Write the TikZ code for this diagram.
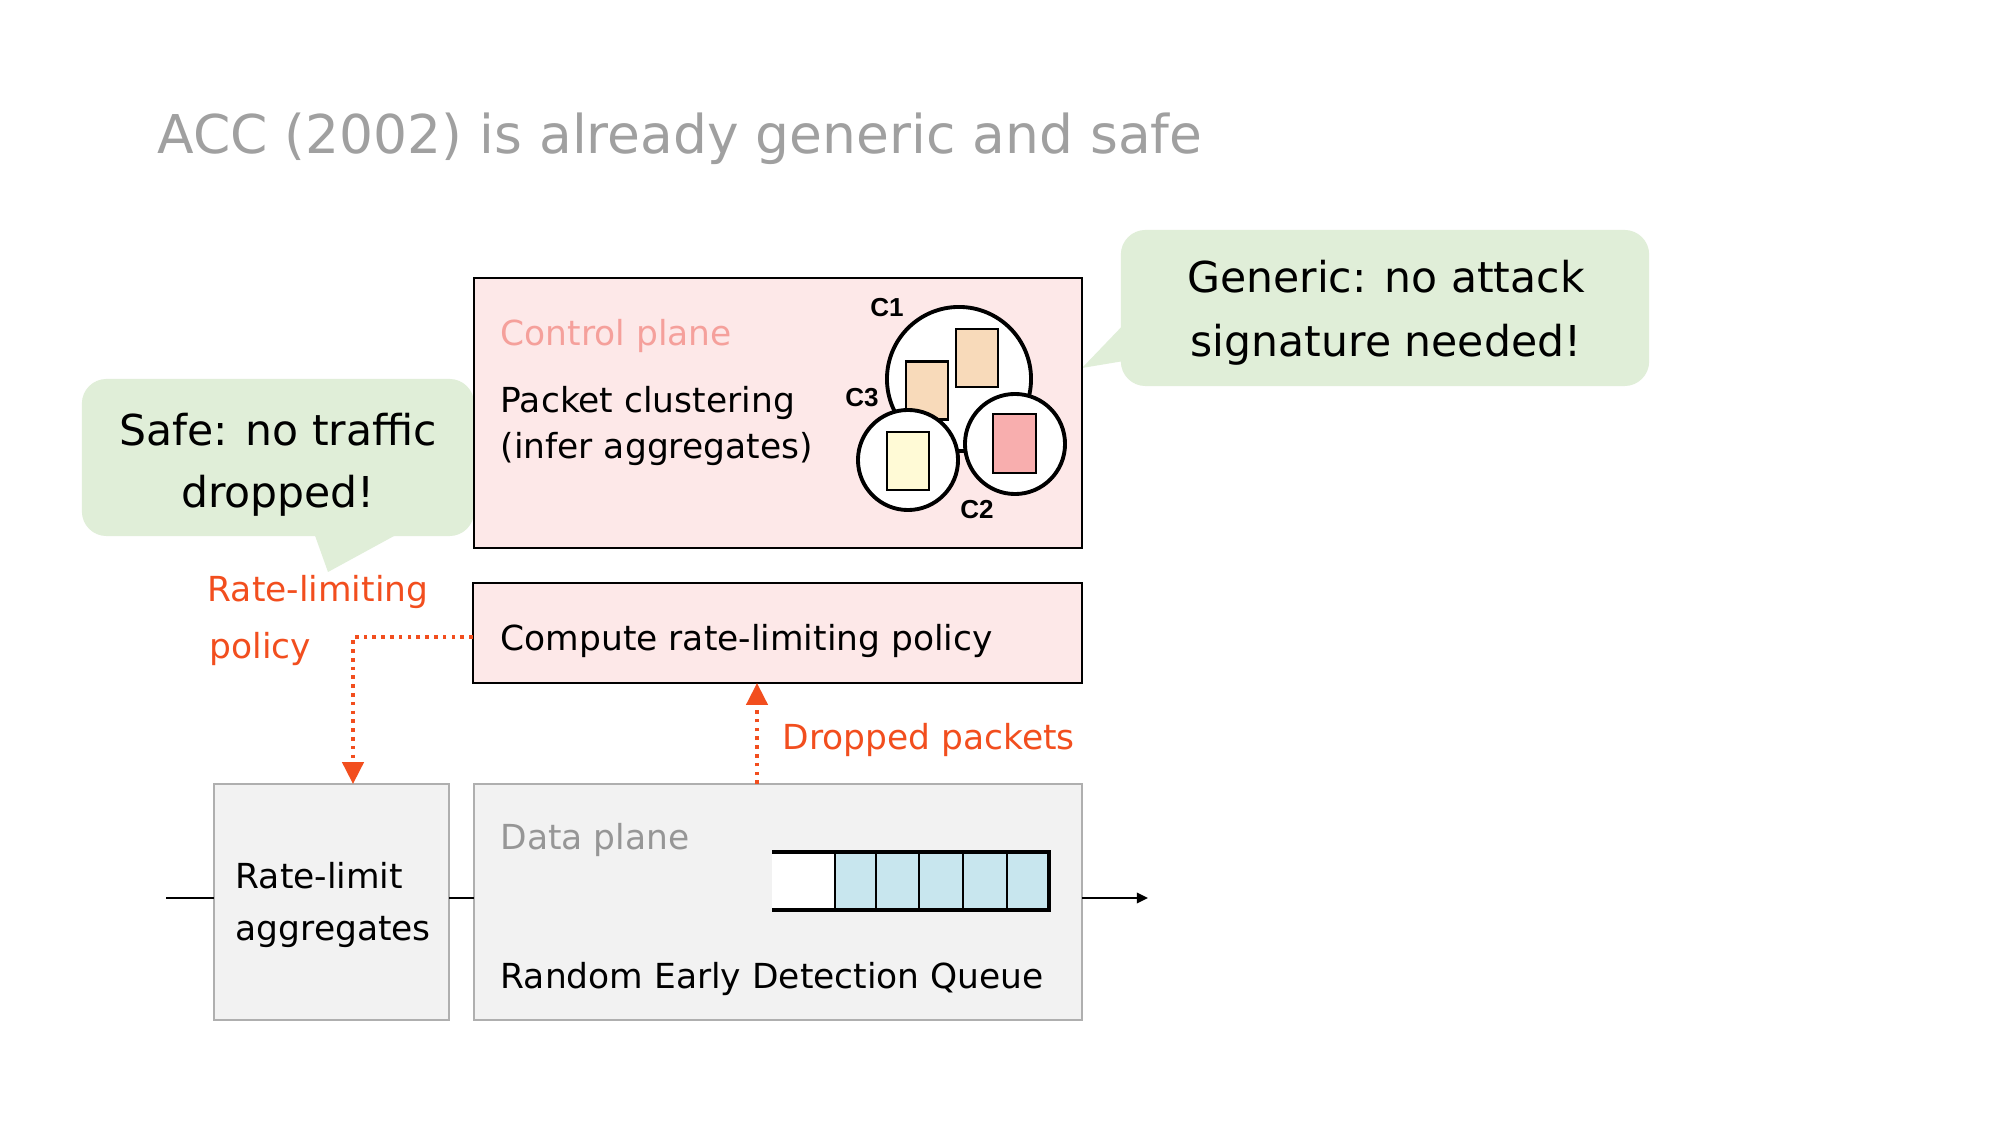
\documentclass[tikz,border=0pt]{standalone}
\usepackage{fontspec}
\setmainfont{DejaVu Sans}
\newfontfamily\clfont{Liberation Sans}
\usetikzlibrary{arrows.meta}
\definecolor{ttl}{RGB}{160,160,160}
\definecolor{ctrlfill}{RGB}{253,232,232}
\definecolor{ctrltxt}{RGB}{245,160,155}
\definecolor{datafill}{RGB}{242,242,242}
\definecolor{databorder}{RGB}{175,175,175}
\definecolor{datatxt}{RGB}{150,150,150}
\definecolor{bub}{RGB}{224,238,216}
\definecolor{acc}{RGB}{242,78,30}
\definecolor{qblue}{RGB}{200,230,238}
\definecolor{peach}{RGB}{248,218,186}
\definecolor{pyellow}{RGB}{255,250,214}
\definecolor{ppink}{RGB}{248,174,174}
\begin{document}
\begin{tikzpicture}[x=0.01cm,y=-0.01cm,
  txt/.style={inner sep=0pt, anchor=base west, font=\fontsize{9.8}{12}\selectfont},
  acctxt/.style={txt, text=acc},
  bubtxt/.style={inner sep=0pt, anchor=base, font=\fontsize{12.1}{14}\selectfont},
  ctrlbox/.style={draw=black, line width=0.5pt, fill=ctrlfill, inner sep=0pt, outer sep=0pt},
  databox/.style={draw=databorder, line width=0.5pt, fill=datafill, inner sep=0pt, outer sep=0pt},
  bubble/.style={fill=bub, rounded corners=7pt, inner sep=0pt, outer sep=0pt},
  clus/.style={circle, draw=black, fill=white, line width=1.1pt, inner sep=0pt, outer sep=0pt},
  pk/.style={draw=black, line width=0.6pt, inner sep=0pt, outer sep=0pt, minimum width=0.42cm, minimum height=0.58cm},
  cl/.style={inner sep=0pt, font=\clfont\bfseries\fontsize{7.4}{8}\selectfont},
  dotarrow/.style={draw=acc, line width=1.05pt, dash pattern=on 1.05pt off 1.45pt, -{Triangle[length=6.2pt,width=6pt]}},
  flow/.style={draw=black, line width=0.6pt},
]
\fill[white] (0,0) rectangle (2000,1125);
\useasboundingbox (0,0) rectangle (2000,1125);

% title
\node[inner sep=0pt, anchor=base west, text=ttl, font=\fontsize{15.2}{18}\selectfont] (title) at (157,154) {ACC (2002) is already generic and safe};

% bubbles
\node[bubble, minimum width=3.92cm, minimum height=1.57cm] (safe) at (278,457.5) {};
\fill[bub] (313,530) -- (328,572) -- (405,530) -- cycle;
\node[bubtxt] (safe1) at (278,446) {Safe: no traffic};
\node[bubtxt] (safe2) at (278,508) {dropped!};

\node[bubble, minimum width=5.28cm, minimum height=1.56cm] (gen) at (1385,308) {};
\fill[bub] (1130,318) -- (1082,368) -- (1130,360) -- cycle;
\node[bubtxt] (gen1) at (1386,293) {Generic: no attack};
\node[bubtxt] (gen2) at (1386,357) {signature needed!};

% boxes
\node[ctrlbox, minimum width=6.08cm, minimum height=2.70cm] (ctrl) at (778,413) {};
\node[ctrlbox, minimum width=6.09cm, minimum height=1.00cm] (cmp) at (777.5,633) {};
\node[databox, minimum width=6.08cm, minimum height=2.36cm] (data) at (778,902) {};
\node[databox, minimum width=2.35cm, minimum height=2.36cm] (rl) at (331.5,902) {};

% texts in boxes
\node[txt, text=ctrltxt] (ctrlt) at (500,346) {Control plane};
\node[txt] (pc1) at (500,413) {Packet clustering};
\node[txt] (pc2) at (500,459) {(infer aggregates)};
\node[txt] (cmpt) at (500,650) {Compute rate-limiting policy};
\node[txt, text=datatxt] (datat) at (500,849) {Data plane};
\node[txt] (red) at (500,988) {Random Early Detection Queue};
\node[txt] (rl1) at (235,888) {Rate-limit};
\node[txt] (rl2) at (235,940) {aggregates};

% clusters
\node[clus, minimum size=1.44cm] (c1) at (959,379) {};
\node[pk, fill=peach] (p1) at (977,358) {};
\node[pk, fill=peach] (p2) at (927,390.5) {};
\node[clus, minimum size=1.00cm] (c3) at (908,460) {};
\node[pk, fill=pyellow] (p3) at (908,461) {};
\node[clus, minimum size=1.00cm] (c2) at (1015,444) {};
\node[pk, fill=ppink, minimum width=0.43cm, minimum height=0.59cm] (p4) at (1014.5,443.5) {};
\node[cl] (lc1) at (887,308) {C1};
\node[cl] (lc3) at (862,398) {C3};
\node[cl] (lc2) at (977,510) {C2};

% queue
\fill[white] (772,852) rectangle (835,910);
\fill[qblue] (835,852) rectangle (1049,910);
\foreach \xx in {835,876,919,963,1007} \draw[line width=0.75pt] (\xx,852) -- (\xx,910);
\draw[line width=1.15pt] (772,852) -- (1049,852) -- (1049,910) -- (772,910);

% flow line
\coordinate (in) at (166,898);
\coordinate (out) at (1148,898);
\draw[flow] (in) -- (in -| rl.west);
\draw[flow] (in -| rl.east) -- (in -| data.west);
\draw[flow, -{Triangle[length=3.2pt,width=3pt]}] (in -| data.east) -- (out);

% dotted arrows
\coordinate (pcorner) at (353,784);
\draw[dotarrow] (cmp.west |- 0,637) -| (pcorner);
\coordinate (dp) at (757,784);
\draw[dotarrow] (dp) -- (dp |- cmp.south);

% accent labels
\node[acctxt] (rlp1) at (207,602) {Rate-limiting};
\node[acctxt] (rlp2) at (209,659) {policy};
\node[acctxt] (dpk) at (782,749) {Dropped packets};
\end{tikzpicture}
\end{document}
